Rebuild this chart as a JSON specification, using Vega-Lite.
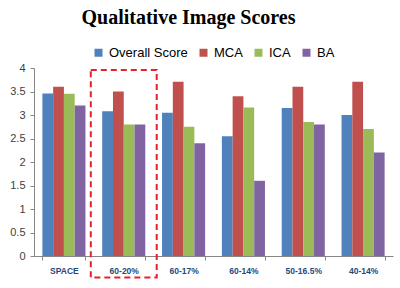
{
  "$schema": "https://vega.github.io/schema/vega-lite/v6.json",
  "autosize": {"type": "none"},
  "padding": {"left": 34, "top": 68, "right": 7, "bottom": 32},
  "width": 359,
  "height": 188,
  "background": "white",
  "title": {
    "text": "Qualitative Image Scores",
    "font": "Liberation Serif",
    "fontSize": 20,
    "fontWeight": "bold",
    "color": "#000000",
    "anchor": "middle",
    "frame": "group",
    "dx": -25,
    "offset": 2,
    "baseline": "alphabetic"
  },
  "datasets": {
    "scores": [
      {"cat": "SPACE", "series": "Overall Score", "value": 3.46},
      {"cat": "SPACE", "series": "MCA", "value": 3.6},
      {"cat": "SPACE", "series": "ICA", "value": 3.45},
      {"cat": "SPACE", "series": "BA", "value": 3.2},
      {"cat": "60-20%", "series": "Overall Score", "value": 3.08},
      {"cat": "60-20%", "series": "MCA", "value": 3.5},
      {"cat": "60-20%", "series": "ICA", "value": 2.8},
      {"cat": "60-20%", "series": "BA", "value": 2.8},
      {"cat": "60-17%", "series": "Overall Score", "value": 3.05},
      {"cat": "60-17%", "series": "MCA", "value": 3.71},
      {"cat": "60-17%", "series": "ICA", "value": 2.75},
      {"cat": "60-17%", "series": "BA", "value": 2.4},
      {"cat": "60-14%", "series": "Overall Score", "value": 2.55},
      {"cat": "60-14%", "series": "MCA", "value": 3.4},
      {"cat": "60-14%", "series": "ICA", "value": 3.16},
      {"cat": "60-14%", "series": "BA", "value": 1.6},
      {"cat": "50-16.5%", "series": "Overall Score", "value": 3.15},
      {"cat": "50-16.5%", "series": "MCA", "value": 3.6},
      {"cat": "50-16.5%", "series": "ICA", "value": 2.85},
      {"cat": "50-16.5%", "series": "BA", "value": 2.8},
      {"cat": "40-14%", "series": "Overall Score", "value": 3.0},
      {"cat": "40-14%", "series": "MCA", "value": 3.71},
      {"cat": "40-14%", "series": "ICA", "value": 2.7},
      {"cat": "40-14%", "series": "BA", "value": 2.2}
    ],
    "highlight": [
      {"cat": "60-20%", "value": 3.96, "bottom": -0.46}
    ]
  },
  "config": {
    "view": {"stroke": null},
    "axis": {"grid": false}
  },
  "encoding": {
    "x": {
      "field": "cat",
      "type": "nominal",
      "sort": ["SPACE", "60-20%", "60-17%", "60-14%", "50-16.5%", "40-14%"],
      "scale": {"paddingInner": 0.28, "paddingOuter": 0.14},
      "axis": {
        "title": null,
        "labelAngle": 0,
        "tickBand": "extent",
        "domainColor": "#868686",
        "tickColor": "#868686",
        "tickSize": 4,
        "labelFont": "Liberation Sans",
        "labelFontSize": 8.5,
        "labelFontWeight": "bold",
        "labelColor": "#1F497D",
        "labelPadding": 6
      }
    },
    "y": {
      "field": "value",
      "type": "quantitative",
      "scale": {"domain": [0, 4]},
      "axis": {
        "title": null,
        "values": [0, 0.5, 1, 1.5, 2, 2.5, 3, 3.5, 4],
        "format": "~g",
        "labelOverlap": false,
        "domainColor": "#868686",
        "tickColor": "#868686",
        "tickSize": 4,
        "labelFont": "Liberation Sans",
        "labelFontSize": 11,
        "labelColor": "#404040",
        "labelPadding": 5
      }
    }
  },
  "layer": [
    {
      "data": {"name": "scores"},
      "mark": {"type": "bar"},
      "encoding": {
        "xOffset": {
          "field": "series",
          "type": "nominal",
          "sort": ["Overall Score", "MCA", "ICA", "BA"],
          "scale": {"paddingInner": 0, "paddingOuter": 0}
        },
        "color": {
          "field": "series",
          "type": "nominal",
          "sort": ["Overall Score", "MCA", "ICA", "BA"],
          "scale": {
            "domain": ["Overall Score", "MCA", "ICA", "BA"],
            "range": ["#4F81BD", "#C0504D", "#9BBB59", "#8064A2"]
          },
          "legend": {
            "title": null,
            "orient": "none",
            "direction": "horizontal",
            "columns": 4,
            "legendX": 58,
            "legendY": -22,
            "padding": 0,
            "symbolType": "square",
            "symbolSize": 64,
            "symbolStrokeWidth": 0,
            "labelFont": "Liberation Sans",
            "labelFontSize": 13,
            "labelColor": "#000000",
            "labelOffset": 4,
            "columnPadding": 9
          }
        }
      }
    },
    {
      "data": {"name": "highlight"},
      "mark": {
        "type": "rect",
        "width": {"band": 1.53},
        "fill": "transparent",
        "stroke": "#E8202A",
        "strokeWidth": 2,
        "strokeDash": [6, 4],
        "clip": false
      },
      "encoding": {
        "y2": {"field": "bottom"}
      }
    }
  ]
}
